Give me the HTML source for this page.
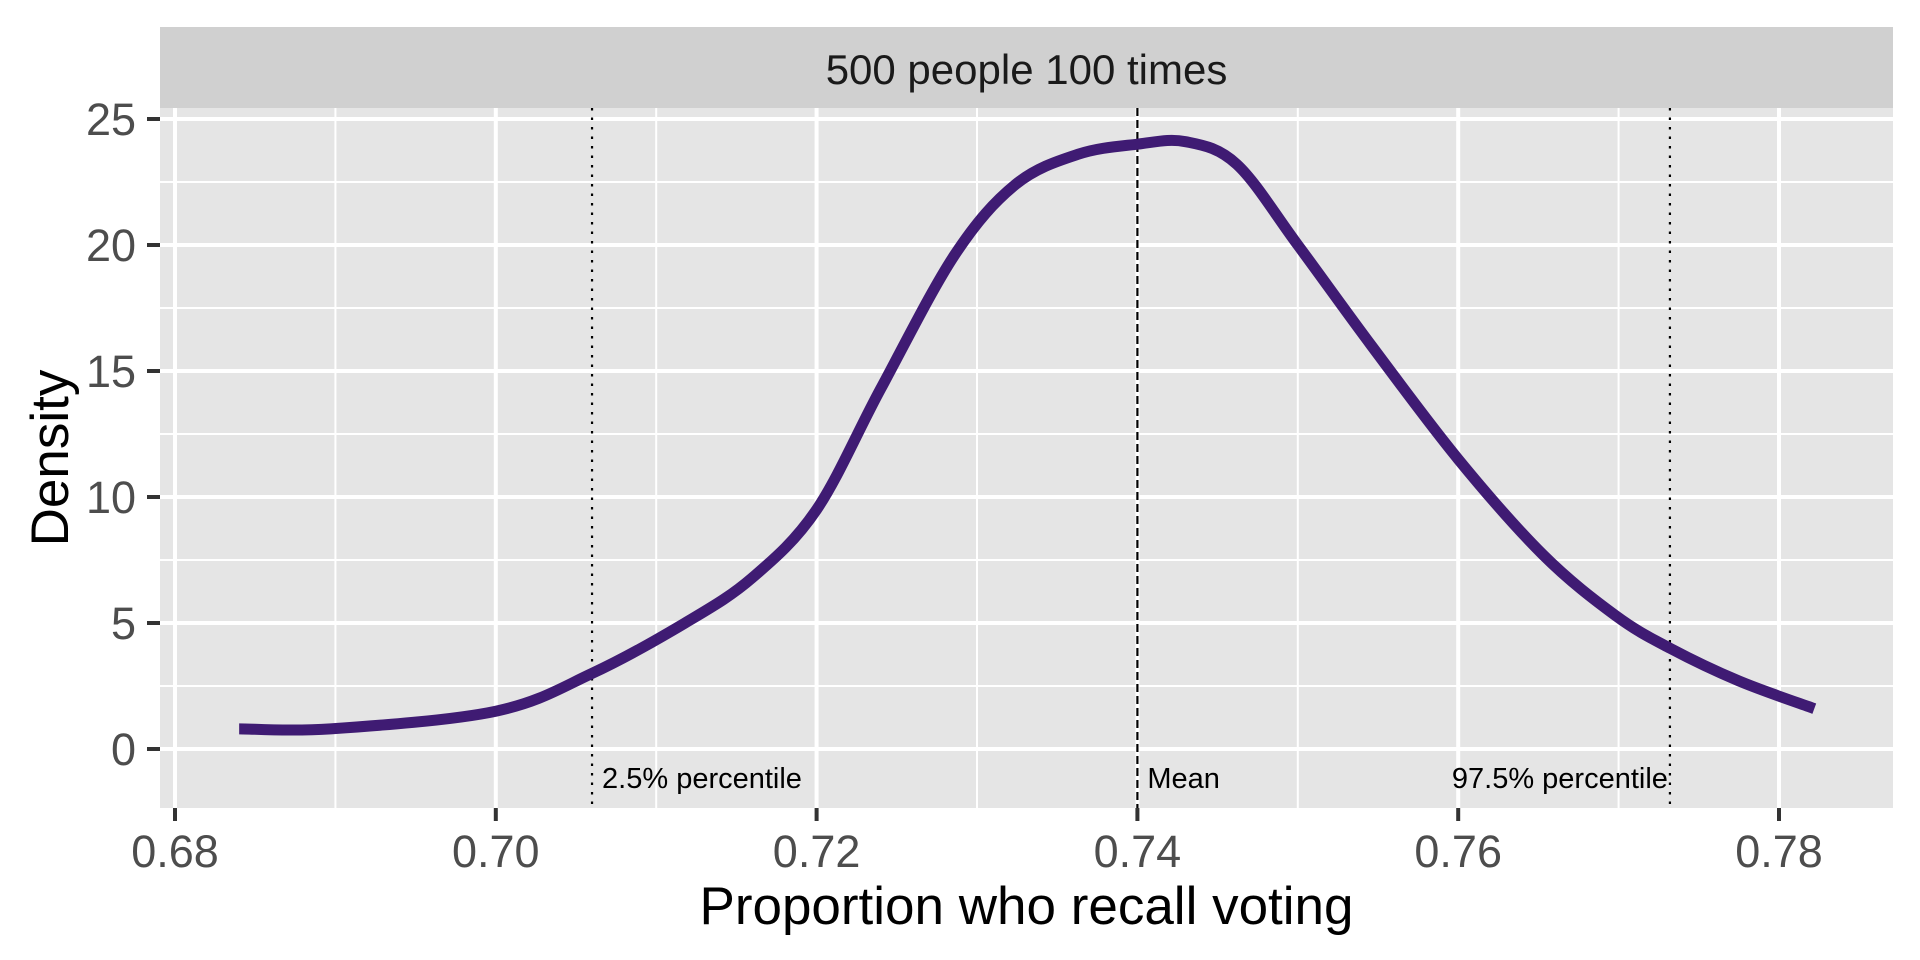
<!DOCTYPE html>
<html><head><meta charset="utf-8"><style>
body{margin:0;background:#fff;}
svg{display:block;font-family:"Liberation Sans",sans-serif;}
</style></head><body>
<svg id="chart" width="1920" height="960"></svg>
<script>
const xs=[0.684,0.6897,0.70,0.706,0.7118,0.716,0.720,0.724,0.7286,0.7324,0.7363,0.740,0.743,0.7462,0.750,0.7546,0.760,0.7653,0.7698,0.7732,0.7775,0.7822];
const ys=[0.8,0.8,1.5,3.0,5.0,6.8,9.5,14.3,19.6,22.4,23.6,24.0,24.1,23.2,20.0,16.0,11.5,7.7,5.3,4.0,2.7,1.6];
const xTicks=[0.68,0.70,0.72,0.74,0.76,0.78];
const yTicks=[0,5,10,15,20,25];
const vlines=[0.706,0.740,0.7732];
const vlabels=["2.5% percentile","Mean","97.5% percentile"];
const NS="http://www.w3.org/2000/svg";
const svg=document.getElementById('chart');
const L=160,R=1893,T=108,B=808;
const X=v=>175+(v-0.68)*16040;
const Y=v=>749-v*25.2;
function mk(t,a,p){const e=document.createElementNS(NS,t);for(const k in a)e.setAttribute(k,a[k]);(p||svg).appendChild(e);return e;}
const bg=mk('rect',{x:L,y:T,width:R-L,height:B-T,fill:'#e5e5e5'});


const strip=mk('rect',{x:L,y:27,width:R-L,height:81,fill:'#d0d0d0'});


const st=mk('text',{x:(L+R)/2,y:84,'text-anchor':'middle','font-size':42,fill:'#1a1a1a'});
st.textContent='500 people 100 times';


// minor grid
for(let i=0;i<yTicks.length;i++){const v=yTicks[i]+2.5;if(Y(v)>T)mk('line',{x1:L,x2:R,y1:Y(v),y2:Y(v),stroke:'#fff','stroke-width':2});}
mk('line',{x1:L,x2:R,y1:Y(-2.5),y2:Y(-2.5),stroke:'#fff','stroke-width':2});
for(let i=0;i<xTicks.length;i++){const v=xTicks[i]+0.01;if(X(v)<R)mk('line',{x1:X(v),x2:X(v),y1:T,y2:B,stroke:'#fff','stroke-width':2});}
// major grid + ticks
yTicks.forEach(v=>{
 mk('line',{x1:L,x2:R,y1:Y(v),y2:Y(v),stroke:'#fff','stroke-width':4});
 mk('line',{x1:147,x2:L,y1:Y(v),y2:Y(v),stroke:'#333','stroke-width':4});
 const t=mk('text',{x:136,y:Y(v)+16,'text-anchor':'end','font-size':45,fill:'#4d4d4d'});t.textContent=v;
 
 
});
xTicks.forEach(v=>{
 mk('line',{x1:X(v),x2:X(v),y1:T,y2:B,stroke:'#fff','stroke-width':4});
 mk('line',{x1:X(v),x2:X(v),y1:B,y2:B+13,stroke:'#333','stroke-width':4});
 const t=mk('text',{x:X(v),y:867,'text-anchor':'middle','font-size':45,fill:'#4d4d4d'});t.textContent=v.toFixed(2);
 
 
});
// reference lines
vlines.forEach((v,i)=>{
 const ln=mk('line',{x1:X(v),x2:X(v),y1:T,y2:B,stroke:'#000','stroke-width':2.2,'stroke-dasharray':i==1?'8,4':'2.5,7'});
 
 
 const t=mk('text',{x:i==2?X(v)-2:X(v)+10,y:788,'text-anchor':i==2?'end':'start','font-size':29,fill:'#000'});t.textContent=vlabels[i];
 
 
});
// curve (Catmull-Rom)
const P=xs.map((x,i)=>[X(x),Y(ys[i])]);
let d='M'+P[0][0]+','+P[0][1];
for(let i=0;i<P.length-1;i++){const p0=P[Math.max(0,i-1)],p1=P[i],p2=P[i+1],p3=P[Math.min(P.length-1,i+2)];
 d+=` C${p1[0]+(p2[0]-p0[0])/6},${p1[1]+(p2[1]-p0[1])/6} ${p2[0]-(p3[0]-p1[0])/6},${p2[1]-(p3[1]-p1[1])/6} ${p2[0]},${p2[1]}`;}
const c=mk('path',{d:d,fill:'none',stroke:'#3f1b73','stroke-width':11});


const xt=mk('text',{x:(L+R)/2,y:924,'text-anchor':'middle','font-size':53,fill:'#000'});xt.textContent='Proportion who recall voting';


const yt=mk('text',{x:0,y:0,'text-anchor':'middle','font-size':53,fill:'#000',transform:`translate(68,${(T+B)/2}) rotate(-90)`});yt.textContent='Density';


</script>
</body></html>
